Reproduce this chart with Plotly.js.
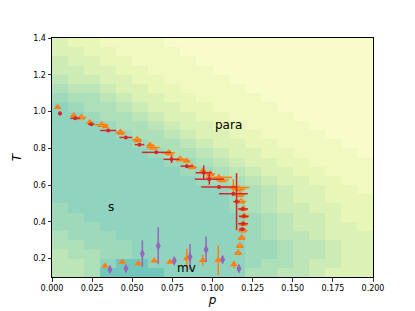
<!DOCTYPE html>
<html>
<head>
<meta charset="utf-8">
<script src="https://cdn.plot.ly/plotly-3.0.1.min.js"></script>
<style>html,body{margin:0;padding:0;background:#fff;}#chart{width:415px;height:311px;}</style>
</head>
<body>
<div id="chart"></div>
<script>
// Heatmap grid (cell centres)
const gridP = [0.005,0.015,0.025,0.035,0.045,0.055,0.065,0.075,0.085,0.095,0.105,0.115,0.125,0.135,0.145,0.155,0.165,0.175,0.185,0.195];
const gridT = [0.125,0.175,0.225,0.275,0.325,0.375,0.425,0.475,0.525,0.575,0.625,0.675,0.725,0.775,0.825,0.875,0.925,0.975,1.025,1.075,1.125,1.175,1.225,1.275,1.325,1.375];
// Levels 0 (pale yellow) .. 9 (teal), rows listed from T=1.375 (top) down to T=0.125 (bottom)
const levelRowsTopDown = [
  "32211110000000000000",
  "33221111000000000000",
  "43322111100000000000",
  "44332211110000000000",
  "54433221111000000000",
  "65543322111100000000",
  "76654332211110000000",
  "87665433221111000000",
  "88766543322111100000",
  "88876654332211110000",
  "88887665433221111000",
  "88888766543322111100",
  "88888876654332211110",
  "88888887765433221111",
  "88888888776543322111",
  "88888888877654332211",
  "88888888888765433221",
  "88888888888765433222",
  "78888888888765443322",
  "77888888888876544322",
  "77788888888876544332",
  "67778888888876554333",
  "66777888888877655433",
  "56677888888877655433",
  "55689988888876654433",
  "55699998888866554333"
];

// Red circles with error bars
const redP    = [0.005,0.0145,0.0245,0.035,0.046,0.0545,0.065,0.0745,0.084,0.0945,0.098,0.104,0.113,0.115,0.119,0.1195,0.119,0.1185];
const redT    = [0.99,0.963,0.931,0.897,0.859,0.82,0.778,0.74,0.703,0.667,0.632,0.59,0.553,0.51,0.47,0.43,0.39,0.36];
const redPerr = [0.001,0.003,0.002,0.005,0.004,0.003,0.009,0.005,0.004,0.005,0.009,0.011,0.009,0.002,0.003,0.003,0.003,0.002];
const redTerr = [0.01,0.005,0.005,0.005,0.005,0.005,0.005,0.02,0.01,0.04,0.03,0.01,0.01,0.155,0.005,0.005,0.005,0.005];

// Orange filled triangles (transition line)
const triP    = [0.0035,0.0135,0.0235,0.0332,0.043,0.0536,0.061,0.0735,0.084,0.094,0.104,0.113];
const triT    = [1.023,0.978,0.942,0.919,0.883,0.843,0.818,0.771,0.731,0.677,0.642,0.587];
const triTerr = [0.005,0.005,0.005,0.005,0.005,0.005,0.005,0.005,0.01,0.01,0.01,0.045];
const triPerr = [0.001,0.001,0.001,0.001,0.001,0.001,0.001,0.001,0.002,0.002,0.008,0.01];

// Orange open triangles
const openP    = [0.0183,0.031,0.0426,0.053,0.063,0.0727,0.0798,0.0872,0.0986,0.106,0.1165,0.117,0.1178,0.1192,0.1198,0.1192,0.1188,0.1182,0.117,0.116];
const openT    = [0.968,0.928,0.886,0.847,0.804,0.775,0.74,0.697,0.661,0.627,0.578,0.546,0.51,0.47,0.431,0.389,0.353,0.312,0.269,0.231];
const openPerr = [0.003,0.004,0.003,0.003,0.004,0.004,0.004,0.003,0.003,0.004,0.004,0.003,0.003,0.003,0.003,0.003,0.003,0.002,0.002,0.002];

// Orange filled triangles (bottom, mv)
const lowTriP    = [0.033,0.0438,0.0538,0.0637,0.0735,0.084,0.094,0.1036,0.1134];
const lowTriT    = [0.16,0.182,0.173,0.188,0.182,0.2,0.191,0.191,0.168];
const lowTriTerr = [0.005,0.005,0.005,0.005,0.005,0.054,0.03,0.08,0.02];

// Purple diamonds
const purP    = [0.0361,0.0461,0.0563,0.0662,0.0762,0.086,0.096,0.1063,0.1165];
const purT    = [0.141,0.146,0.227,0.27,0.188,0.209,0.25,0.195,0.146];
const purTerr = [0.01,0.01,0.072,0.1,0.02,0.07,0.07,0.02,0.02];

// Region labels
const labelText = ["para","s","mv"];
const labelP = [0.11,0.037,0.0835];
const labelT = [0.925,0.48,0.15];

const z = levelRowsTopDown.slice().reverse().map(r => r.split('').map(Number));

const RED = '#d62728', ORANGE = '#ff7f0e', PURPLE = '#9467bd';

const traces = [
  {
    type: 'heatmap', x: gridP, y: gridT, z: z, zmin: 0, zmax: 9,
    colorscale: [
      [0, '#f8fccb'], [1/9, '#f1f9c0'], [2/9, '#e8f6b8'], [3/9, '#dcf1b5'],
      [4/9, '#cdebb5'], [5/9, '#bde5b7'], [6/9, '#addfb9'], [7/9, '#9fd9bc'],
      [8/9, '#90d3bf'], [1, '#72c7bc']
    ],
    showscale: false, hoverinfo: 'skip'
  },
  {
    type: 'scatter', mode: 'markers', x: lowTriP, y: lowTriT,
    marker: {symbol: 'triangle-up', size: 7, color: ORANGE},
    error_y: {type: 'data', array: lowTriTerr, color: ORANGE, thickness: 1.5, width: 0}
  },
  {
    type: 'scatter', mode: 'markers', x: openP, y: openT,
    marker: {symbol: 'triangle-up-open', size: 6, color: ORANGE, line: {width: 1.2, color: ORANGE}},
    error_x: {type: 'data', array: openPerr, color: ORANGE, thickness: 1.5, width: 0}
  },
  {
    type: 'scatter', mode: 'markers', x: triP, y: triT,
    marker: {symbol: 'triangle-up', size: 7, color: ORANGE},
    error_x: {type: 'data', array: triPerr, color: ORANGE, thickness: 1.5, width: 0},
    error_y: {type: 'data', array: triTerr, color: ORANGE, thickness: 1.5, width: 0}
  },
  {
    type: 'scatter', mode: 'markers', x: redP, y: redT,
    marker: {symbol: 'circle', size: 4, color: RED},
    error_x: {type: 'data', array: redPerr, color: RED, thickness: 1.5, width: 0},
    error_y: {type: 'data', array: redTerr, color: RED, thickness: 1.5, width: 0}
  },
  {
    type: 'scatter', mode: 'markers', x: purP, y: purT,
    marker: {symbol: 'diamond-tall', size: 7, color: PURPLE},
    error_y: {type: 'data', array: purTerr, color: PURPLE, thickness: 1.5, width: 0}
  }
];

const layout = {
  width: 415, height: 311,
  margin: {l: 52, r: 42, t: 38, b: 34},
  paper_bgcolor: '#ffffff', plot_bgcolor: '#ffffff',
  showlegend: false,
  font: {family: 'DejaVu Sans', size: 8, color: '#000'},
  xaxis: {
    range: [0, 0.2], tickvals: [0,0.025,0.05,0.075,0.1,0.125,0.15,0.175,0.2], tickformat: '.3f',
    showgrid: false, zeroline: false, showline: true, linecolor: '#000', linewidth: 1, mirror: true,
    ticks: 'outside', ticklen: 3.5, tickcolor: '#000', tickwidth: 0.8,
    tickfont: {family: 'DejaVu Sans', size: 8, color: '#000'},
    title: {text: '<i>p</i>', font: {family: 'DejaVu Sans', size: 12, color: '#000'}, standoff: 3}
  },
  yaxis: {
    range: [0.1, 1.4], tickvals: [0.2,0.4,0.6,0.8,1.0,1.2,1.4], tickformat: '.1f',
    showgrid: false, zeroline: false, showline: true, linecolor: '#000', linewidth: 1, mirror: true,
    ticks: 'outside', ticklen: 3.5, tickcolor: '#000', tickwidth: 0.8,
    tickfont: {family: 'DejaVu Sans', size: 8, color: '#000'},
    title: {text: '<i>T</i>', font: {family: 'DejaVu Sans', size: 12, color: '#000'}, standoff: 8}
  },
  annotations: labelText.map((t, i) => ({
    text: t, x: labelP[i], y: labelT[i], xref: 'x', yref: 'y', showarrow: false,
    font: {family: 'DejaVu Sans', size: 12, color: '#000'}
  }))
};

Plotly.newPlot('chart', traces, layout, {displayModeBar: false, staticPlot: true});
</script>
</body>
</html>
